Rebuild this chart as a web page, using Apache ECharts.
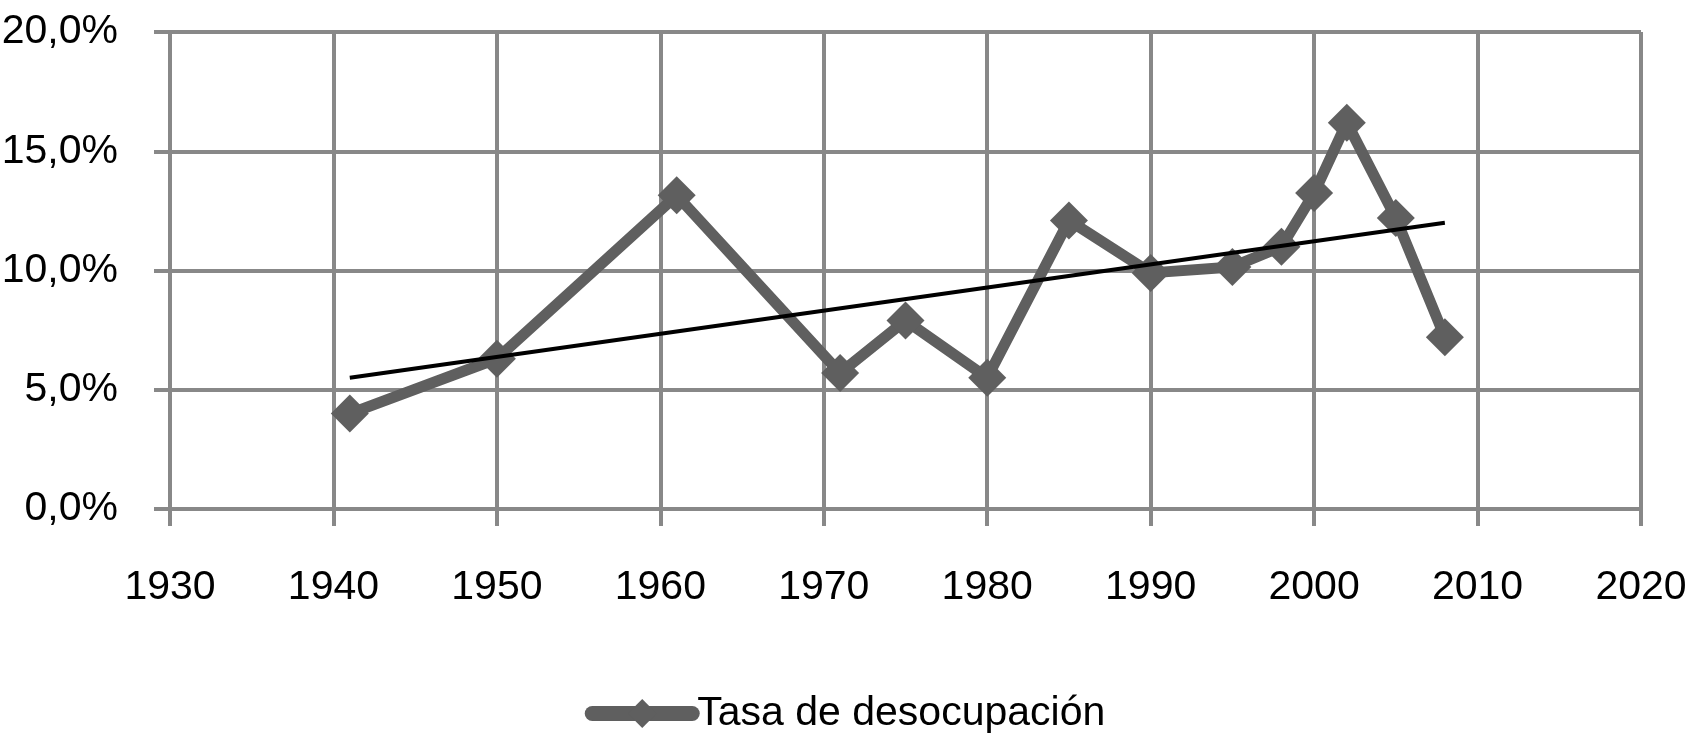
<!DOCTYPE html>
<html>
<head>
<meta charset="utf-8">
<script src="https://cdn.jsdelivr.net/npm/echarts@6/dist/echarts.min.js"></script>
<style>
  html, body { margin: 0; padding: 0; background: #fff; }
  #chart { width: 1690px; height: 733px; }
</style>
</head>
<body>
<div id="chart"></div>
<script>
// datos
var years = [1941, 1950, 1961, 1971, 1975, 1980, 1985, 1990, 1995, 1998, 2000, 2002, 2005, 2008];
var tasa = [4.0, 6.3, 13.15, 5.7, 7.9, 5.5, 12.1, 9.9, 10.15, 11.0, 13.25, 16.2, 12.2, 7.2];
// extremos de la linea de tendencia
var trendYears = [1941, 2008];
var trendValues = [5.5, 12.0];
var seriesName = "Tasa de desocupación";

var gridColor = "#888888";
var lineColor = "#5f5f5f";
var font = "'Liberation Sans', sans-serif";

var chart = echarts.init(document.getElementById("chart"));

var option = {
  animation: false,
  backgroundColor: "#fff",
  grid: { left: 170, right: 49, top: 32, bottom: 224, outerBoundsMode: "none" },
  legend: {
    data: [seriesName],
    left: "center",
    top: 688,
    itemWidth: 100,
    itemHeight: 36,
    itemGap: 10,
    textStyle: { fontFamily: font, fontSize: 41, color: "#000" },
    lineStyle: { width: 15, cap: "round" }
  },
  xAxis: {
    type: "value",
    min: 1930,
    max: 2020,
    interval: 10,
    axisLine: { show: true, lineStyle: { color: gridColor, width: 4 } },
    axisTick: { show: true, length: 17, lineStyle: { color: gridColor, width: 4 } },
    splitLine: { show: true, lineStyle: { color: gridColor, width: 4 } },
    axisLabel: {
      margin: 58,
      fontFamily: font,
      fontSize: 41,
      color: "#000",
      formatter: function (v) { return String(v); }
    }
  },
  yAxis: {
    type: "value",
    min: 0,
    max: 20,
    interval: 5,
    axisLine: { show: true, lineStyle: { color: gridColor, width: 4 } },
    axisTick: { show: true, length: 16, lineStyle: { color: gridColor, width: 4 } },
    splitLine: { show: true, lineStyle: { color: gridColor, width: 4 } },
    axisLabel: {
      margin: 52,
      fontFamily: font,
      fontSize: 41,
      color: "#000",
      formatter: function (v) { return v.toFixed(1).replace(".", ",") + "%"; }
    }
  },
  series: [
    {
      name: seriesName,
      type: "line",
      data: years.map(function (y, i) { return [y, tasa[i]]; }),
      symbol: "diamond",
      symbolSize: 38,
      lineStyle: { color: lineColor, width: 11 },
      itemStyle: { color: lineColor },
      z: 2
    },
    {
      name: "tendencia",
      type: "line",
      data: trendYears.map(function (y, i) { return [y, trendValues[i]]; }),
      showSymbol: false,
      lineStyle: { color: "#000", width: 4 },
      z: 3
    }
  ]
};

chart.setOption(option);
</script>
</body>
</html>
